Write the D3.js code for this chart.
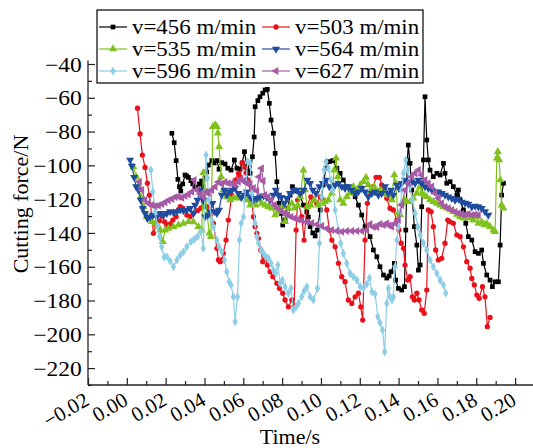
<!DOCTYPE html>
<html><head><meta charset="utf-8">
<script src="https://cdn.jsdelivr.net/npm/d3@7"></script>
<style>body{margin:0;background:#fff}svg{display:block}svg text{font-family:"Liberation Serif","Times New Roman",Times,"DejaVu Serif",serif !important;fill:#000}</style>
</head><body>
<script>
// ---- data: [time (s), cutting force (N)] ----
const v456 = [[0.0232,-81.0],[0.0244,-86.6],[0.0254,-97.2],[0.0263,-108.3],[0.0271,-112.6],[0.0278,-115.2],[0.0288,-111],[0.0300,-105.7],[0.0308,-106.3],[0.0317,-107.1],[0.0330,-109.1],[0.0340,-111],[0.0350,-112.8],[0.0362,-113.4],[0.0374,-111],[0.0385,-109.3],[0.0393,-112.2],[0.0403,-107.5],[0.0411,-103.9],[0.0420,-99.8],[0.0438,-97.2],[0.0450,-98.6],[0.0464,-97.2],[0.0475,-102.3],[0.0489,-98.4],[0.0506,-99.2],[0.0520,-101.7],[0.0537,-102.8],[0.0554,-96.8],[0.0567,-101.7],[0.0583,-102.3],[0.0594,-98.6],[0.0606,-91.9],[0.0618,-100.8],[0.0627,-103.3],[0.0635,-104.7],[0.0647,-94.9],[0.0656,-83.2],[0.0661,-65.3],[0.0675,-61.7],[0.0686,-59.4],[0.0700,-57.3],[0.0712,-55.4],[0.0724,-55],[0.0734,-63.3],[0.0743,-73.2],[0.0755,-81],[0.0764,-92.9],[0.0773,-109.7],[0.0784,-122.5],[0.0795,-128.4],[0.0803,-135.3],[0.0815,-132.4],[0.0829,-125.4],[0.0841,-117.6],[0.0853,-112.6],[0.0863,-114.6],[0.0876,-115.2],[0.0893,-118.1],[0.0910,-123.5],[0.0927,-127.6],[0.0935,-130.6],[0.0944,-136.3],[0.0958,-140],[0.0970,-141.8],[0.0982,-138.3],[0.0996,-126.4],[0.1011,-111.6],[0.1026,-101.6],[0.1043,-97.8],[0.1061,-97.2],[0.1082,-101.7],[0.1099,-104.7],[0.1115,-108.7],[0.1133,-112.6],[0.1150,-114.6],[0.1176,-118.6],[0.1193,-123.5],[0.1210,-129.4],[0.1227,-136.3],[0.1253,-142.2],[0.1270,-150.1],[0.1288,-154.1],[0.1304,-160],[0.1322,-164.9],[0.1339,-166.7],[0.1351,-165.5],[0.1361,-163],[0.1378,-158],[0.1385,-167.9],[0.1399,-172.8],[0.1416,-173.8],[0.1430,-171.8],[0.1437,-138.3],[0.1445,-96.8],[0.1450,-88],[0.1459,-98.8],[0.1468,-114.6],[0.1481,-136.3],[0.1494,-147.2],[0.1502,-162],[0.1511,-159],[0.1519,-124.5],[0.1528,-96.8],[0.1536,-59.4],[0.1545,-85],[0.1553,-96.8],[0.1562,-102.8],[0.1579,-106.7],[0.1597,-104.7],[0.1614,-105.7],[0.1631,-98.8],[0.1639,-104.7],[0.1648,-110.6],[0.1665,-109.7],[0.1682,-112.6],[0.1700,-117.6],[0.1708,-114.6],[0.1717,-120.5],[0.1734,-126.4],[0.1746,-134.3],[0.1759,-142.2],[0.1777,-144.2],[0.1794,-151.1],[0.1811,-152.1],[0.1828,-150.1],[0.1837,-158],[0.1854,-164.9],[0.1871,-167.9],[0.1883,-171.8],[0.1897,-168.9],[0.1914,-168.9],[0.1923,-147.2],[0.1931,-117.6],[0.1940,-110.6]];
const v503 = [[0.0055,-66.2],[0.0068,-81.4],[0.0080,-93.9],[0.0094,-101.2],[0.0106,-110.6],[0.0116,-117.6],[0.0129,-130.4],[0.0137,-140.2],[0.0151,-135.3],[0.0168,-132.8],[0.0182,-130],[0.0195,-133.5],[0.0206,-135.3],[0.0223,-134.7],[0.0237,-132.4],[0.0254,-130.4],[0.0266,-126.4],[0.0275,-124.5],[0.0288,-125.4],[0.0309,-129.4],[0.0326,-130.4],[0.0343,-128.4],[0.0364,-126.8],[0.0381,-125.4],[0.0394,-121.1],[0.0412,-124.5],[0.0429,-129.4],[0.0446,-134.3],[0.0464,-149.1],[0.0472,-156],[0.0481,-157],[0.0489,-156],[0.0497,-152.1],[0.0511,-144.2],[0.0523,-132.4],[0.0541,-117.6],[0.0558,-108.7],[0.0575,-104.7],[0.0583,-106.7],[0.0595,-98.4],[0.0609,-101.2],[0.0614,-104.4],[0.0626,-108.7],[0.0644,-120.5],[0.0652,-130.4],[0.0661,-136.3],[0.0670,-140.2],[0.0678,-143.2],[0.0690,-150.1],[0.0700,-157],[0.0712,-154.1],[0.0724,-159],[0.0738,-163],[0.0752,-165.9],[0.0773,-169.8],[0.0786,-172.8],[0.0803,-175.7],[0.0815,-179.7],[0.0832,-183.7],[0.0850,-179.7],[0.0862,-183.3],[0.0872,-138.3],[0.0880,-120.5],[0.0901,-130.4],[0.0913,-144.2],[0.0927,-124.5],[0.0948,-118.6],[0.0961,-120.5],[0.0979,-122.5],[0.0996,-118.6],[0.1011,-120.5],[0.1030,-126.4],[0.1043,-138.3],[0.1056,-144.2],[0.1073,-148.2],[0.1090,-158],[0.1107,-165.9],[0.1124,-168.9],[0.1141,-179.7],[0.1159,-181.7],[0.1176,-177.8],[0.1193,-175.7],[0.1205,-183.7],[0.1215,-191.6],[0.1227,-144.2],[0.1239,-122.5],[0.1253,-116.5],[0.1270,-112.6],[0.1284,-107.1],[0.1301,-107.1],[0.1313,-111.6],[0.1325,-116.5],[0.1339,-119.5],[0.1356,-125.4],[0.1373,-126.4],[0.1391,-132.4],[0.1402,-138.3],[0.1413,-146.1],[0.1425,-149.1],[0.1433,-159],[0.1447,-167.9],[0.1459,-165.9],[0.1471,-177.8],[0.1481,-179.7],[0.1494,-175.7],[0.1505,-179.7],[0.1519,-185.6],[0.1532,-187.6],[0.1545,-173.8],[0.1553,-126.4],[0.1567,-127.4],[0.1579,-136.3],[0.1591,-150.1],[0.1605,-156],[0.1622,-155],[0.1639,-146.1],[0.1653,-132.4],[0.1665,-133.4],[0.1682,-134.3],[0.1700,-141.2],[0.1717,-142.2],[0.1734,-148.2],[0.1751,-157],[0.1768,-160.9],[0.1777,-166.9],[0.1790,-170.8],[0.1803,-176.8],[0.1815,-178.7],[0.1832,-171.8],[0.1845,-177.8],[0.1857,-195.5],[0.1871,-190]];
const v535 = [[0.0034,-101],[0.0048,-106.7],[0.0060,-112.6],[0.0072,-118.6],[0.0085,-124.5],[0.0103,-130.4],[0.0115,-131.8],[0.0129,-133.4],[0.0146,-134.3],[0.0163,-136.3],[0.0171,-138.3],[0.0185,-145.2],[0.0197,-138.3],[0.0214,-137.3],[0.0240,-136.3],[0.0266,-135.3],[0.0291,-134.3],[0.0317,-133.4],[0.0343,-133.5],[0.0369,-136.3],[0.0386,-138.3],[0.0394,-104.4],[0.0403,-114.6],[0.0414,-129.4],[0.0425,-140.2],[0.0433,-142.2],[0.0443,-77.1],[0.0455,-76.1],[0.0464,-77.1],[0.0469,-81],[0.0475,-89],[0.0486,-106.7],[0.0497,-114.6],[0.0515,-118.6],[0.0532,-120.5],[0.0549,-119.5],[0.0567,-118.6],[0.0583,-119.5],[0.0601,-118.6],[0.0618,-120.5],[0.0635,-123.5],[0.0652,-121.5],[0.0664,-123.5],[0.0678,-120.5],[0.0695,-122.5],[0.0712,-123.5],[0.0729,-124.5],[0.0747,-125.4],[0.0764,-129.4],[0.0773,-125.4],[0.0784,-127.4],[0.0801,-124.5],[0.0815,-133.4],[0.0832,-125.4],[0.0850,-122.5],[0.0863,-125.4],[0.0881,-123.5],[0.0893,-118.6],[0.0910,-102.8],[0.0918,-114.6],[0.0930,-124.5],[0.0948,-123.5],[0.0965,-120.5],[0.0987,-123.5],[0.1004,-122.5],[0.1021,-121.5],[0.1038,-120.5],[0.1056,-116.5],[0.1068,-102.8],[0.1078,-95.8],[0.1087,-106.7],[0.1099,-120.5],[0.1115,-122.5],[0.1133,-118.6],[0.1150,-116.5],[0.1167,-112.6],[0.1185,-114.6],[0.1202,-111.6],[0.1219,-109.7],[0.1232,-107.1],[0.1244,-111.6],[0.1257,-115.6],[0.1274,-112.6],[0.1288,-116.5],[0.1304,-114.6],[0.1322,-115.6],[0.1330,-116.5],[0.1347,-117.6],[0.1365,-120.5],[0.1378,-105.7],[0.1385,-110.6],[0.1396,-128.4],[0.1408,-129.4],[0.1416,-122.5],[0.1430,-120.5],[0.1442,-121.5],[0.1459,-121.5],[0.1476,-119.5],[0.1494,-116.5],[0.1511,-112.6],[0.1519,-116.5],[0.1532,-117.6],[0.1545,-118.6],[0.1562,-120.5],[0.1579,-121.5],[0.1597,-122.5],[0.1614,-123.5],[0.1631,-124.5],[0.1648,-125.4],[0.1665,-126.4],[0.1682,-127.4],[0.1700,-129],[0.1717,-130.4],[0.1734,-131.3],[0.1757,-129.4],[0.1768,-131.3],[0.1785,-132.4],[0.1798,-130.4],[0.1811,-134.3],[0.1828,-133.4],[0.1842,-135.3],[0.1854,-134.3],[0.1871,-136.3],[0.1888,-138.3],[0.1897,-139.3],[0.1906,-95.8],[0.1911,-91.9],[0.1918,-96.8],[0.1924,-108.7],[0.1931,-123.5],[0.1940,-125.4]];
const v564 = [[0.0017,-96.8],[0.0026,-100.4],[0.0038,-107.1],[0.0048,-112.6],[0.0060,-114.6],[0.0072,-120.5],[0.0082,-125.4],[0.0094,-128.4],[0.0106,-131.3],[0.0120,-130.4],[0.0134,-129.4],[0.0155,-130.4],[0.0171,-128.4],[0.0189,-129.4],[0.0206,-128.4],[0.0223,-127.4],[0.0240,-128],[0.0258,-127.4],[0.0275,-126.4],[0.0291,-126.8],[0.0309,-126.4],[0.0326,-125.4],[0.0343,-128.4],[0.0352,-123.5],[0.0364,-120.5],[0.0378,-114.6],[0.0394,-120.5],[0.0403,-130.4],[0.0417,-129.4],[0.0429,-127.4],[0.0441,-122.5],[0.0451,-127.4],[0.0464,-128.4],[0.0475,-126.4],[0.0489,-117.6],[0.0503,-114.6],[0.0515,-117.6],[0.0527,-115.6],[0.0541,-114.6],[0.0558,-113.4],[0.0575,-116.5],[0.0589,-118.9],[0.0606,-117.6],[0.0618,-115.6],[0.0635,-118.6],[0.0652,-120.5],[0.0670,-119.5],[0.0686,-118.6],[0.0704,-118.1],[0.0721,-118.9],[0.0738,-120.5],[0.0755,-117.6],[0.0767,-114.6],[0.0781,-117.6],[0.0795,-118.9],[0.0812,-122.5],[0.0824,-119.5],[0.0841,-116.5],[0.0858,-114.6],[0.0876,-114.6],[0.0893,-116.5],[0.0910,-114.6],[0.0930,-108.7],[0.0944,-110.6],[0.0958,-114.6],[0.0975,-116.5],[0.0992,-112.6],[0.1009,-110.6],[0.1026,-108.7],[0.1043,-112.6],[0.1061,-113.6],[0.1073,-111.6],[0.1090,-110.6],[0.1107,-112.6],[0.1124,-113.6],[0.1141,-112.6],[0.1159,-114.6],[0.1176,-116.5],[0.1193,-115.6],[0.1210,-113.6],[0.1227,-115.6],[0.1244,-118.6],[0.1262,-116.5],[0.1279,-115.6],[0.1296,-117.6],[0.1313,-116.5],[0.1330,-112.6],[0.1347,-116.5],[0.1361,-114.6],[0.1373,-117.6],[0.1391,-111.6],[0.1402,-113.6],[0.1416,-110.6],[0.1433,-108.7],[0.1450,-110.6],[0.1468,-109.7],[0.1485,-110.6],[0.1502,-108.7],[0.1519,-110.6],[0.1536,-112.6],[0.1553,-113.6],[0.1571,-114.6],[0.1588,-115.6],[0.1605,-115.6],[0.1622,-116.5],[0.1639,-117.6],[0.1656,-118.6],[0.1674,-119.5],[0.1691,-120.5],[0.1708,-119.9],[0.1725,-121.7],[0.1742,-122.3],[0.1759,-122.9],[0.1777,-124.5],[0.1794,-124.1],[0.1811,-124.5],[0.1828,-125.4],[0.1845,-127.4],[0.1862,-129.4]];
const v596 = [[0.0124,-102.8],[0.0134,-115.6],[0.0146,-127.4],[0.0158,-135.9],[0.0168,-142.2],[0.0180,-148.2],[0.0192,-154.3],[0.0206,-154.1],[0.0223,-156.6],[0.0240,-160],[0.0258,-156],[0.0275,-153.1],[0.0291,-151.1],[0.0309,-148.2],[0.0330,-145.2],[0.0347,-143.8],[0.0364,-142.2],[0.0381,-139.3],[0.0394,-149.1],[0.0408,-93.9],[0.0415,-107.5],[0.0422,-120.5],[0.0438,-132.4],[0.0446,-136.3],[0.0464,-144.2],[0.0475,-148.2],[0.0489,-151.1],[0.0503,-156],[0.0515,-163],[0.0527,-168.9],[0.0537,-170.8],[0.0549,-177.8],[0.0558,-192.6],[0.0570,-177.8],[0.0580,-144.2],[0.0589,-134.3],[0.0601,-130.4],[0.0613,-109.7],[0.0623,-97.8],[0.0635,-98.8],[0.0644,-116.5],[0.0661,-134.3],[0.0670,-142.2],[0.0678,-146.1],[0.0692,-150.1],[0.0704,-152.1],[0.0716,-154.1],[0.0729,-155],[0.0743,-158],[0.0755,-162],[0.0767,-163.9],[0.0778,-159],[0.0790,-169.8],[0.0801,-167.9],[0.0815,-171.8],[0.0832,-175.7],[0.0846,-172.8],[0.0858,-185.6],[0.0872,-183.7],[0.0884,-181.7],[0.0901,-177.8],[0.0913,-174.4],[0.0927,-171.8],[0.0944,-177.8],[0.0961,-179.7],[0.0982,-172.8],[0.0992,-146.1],[0.1004,-118.6],[0.1016,-102.8],[0.1026,-97.8],[0.1038,-101.7],[0.1051,-108.7],[0.1061,-114.6],[0.1073,-126.4],[0.1090,-138.3],[0.1102,-146.1],[0.1115,-152.1],[0.1133,-158],[0.1150,-163.9],[0.1167,-165.9],[0.1185,-167.9],[0.1202,-171.8],[0.1219,-172.6],[0.1236,-170.2],[0.1250,-166.7],[0.1262,-174.8],[0.1279,-176.2],[0.1293,-189.6],[0.1304,-193],[0.1317,-197.5],[0.1328,-210.5],[0.1339,-181.7],[0.1347,-172.8],[0.1356,-177.8],[0.1366,-179.7],[0.1373,-177.8],[0.1382,-160],[0.1391,-144.2],[0.1399,-136.3],[0.1408,-127.4],[0.1416,-114.6],[0.1425,-104.7],[0.1437,-96.8],[0.1447,-102.8],[0.1459,-112.6],[0.1471,-120.5],[0.1485,-128.4],[0.1499,-136.3],[0.1511,-141.2],[0.1528,-146.1],[0.1545,-150.1],[0.1562,-156],[0.1579,-160],[0.1597,-163.9],[0.1614,-167.9],[0.1631,-170.8],[0.1643,-175.7]];
const v627 = [[0.0065,-109.7],[0.0077,-114.6],[0.0094,-120.5],[0.0111,-122.5],[0.0129,-123.5],[0.0146,-124.1],[0.0163,-123.8],[0.0180,-122.9],[0.0197,-122],[0.0214,-120.7],[0.0232,-119.9],[0.0249,-118.7],[0.0266,-118.6],[0.0283,-119.1],[0.0300,-118.1],[0.0317,-117.3],[0.0335,-115.6],[0.0347,-108.7],[0.0360,-114.6],[0.0378,-117],[0.0393,-118.7],[0.0408,-115.8],[0.0420,-116.5],[0.0438,-114.6],[0.0455,-112.6],[0.0472,-109.9],[0.0489,-111],[0.0506,-109.9],[0.0523,-110.6],[0.0541,-110.6],[0.0558,-111.6],[0.0575,-109.7],[0.0589,-108.1],[0.0602,-109.3],[0.0618,-110.6],[0.0635,-111],[0.0652,-113.4],[0.0670,-115.2],[0.0681,-106.7],[0.0694,-101.7],[0.0702,-109.3],[0.0710,-117.6],[0.0726,-118.7],[0.0743,-120.5],[0.0760,-123.5],[0.0778,-125.4],[0.0795,-127],[0.0812,-128.4],[0.0829,-129.4],[0.0846,-130.4],[0.0863,-131.3],[0.0881,-132],[0.0901,-132.6],[0.0927,-133.5],[0.0953,-134.1],[0.0979,-135],[0.1004,-135.9],[0.1030,-137.4],[0.1056,-138.3],[0.1082,-138.9],[0.1107,-139.3],[0.1133,-138.9],[0.1159,-138.9],[0.1185,-138.9],[0.1210,-138.9],[0.1236,-138.3],[0.1253,-134.7],[0.1270,-136.5],[0.1288,-136.5],[0.1304,-134.7],[0.1322,-135.3],[0.1339,-134.4],[0.1351,-135.6],[0.1365,-136.3],[0.1382,-134.3],[0.1399,-132.4],[0.1416,-123.5],[0.1433,-114.6],[0.1450,-110.6],[0.1468,-106.7],[0.1485,-104.7],[0.1502,-102.8],[0.1519,-105.7],[0.1536,-108.7],[0.1553,-110.6],[0.1571,-112.6],[0.1588,-116.5],[0.1605,-119.5],[0.1622,-122.5],[0.1639,-124.5],[0.1656,-125.4],[0.1674,-126.4],[0.1691,-127.4],[0.1708,-128.4],[0.1725,-128.8],[0.1742,-129.4],[0.1759,-128.8],[0.1777,-129.4],[0.1794,-129.1],[0.1811,-129.4]];

const seriesNames = ["v=456 m/min","v=503 m/min","v=535 m/min","v=564 m/min","v=596 m/min","v=627 m/min"];
const seriesData = [v456, v503, v535, v564, v596, v627];
const xTicks = [-0.02,0,0.02,0.04,0.06,0.08,0.10,0.12,0.14,0.16,0.18,0.20];
const yTicks = [-220,-200,-180,-160,-140,-120,-100,-80,-60,-40];
const xMinorTicks = [-0.01,0.01,0.03,0.05,0.07,0.09,0.11,0.13,0.15,0.17,0.19,0.21];
const yMinorTicks = [-230,-210,-190,-170,-150,-130,-110,-90,-70,-50];
const xTitle = "Time/s";
const yTitle = "Cutting force/N";

// ---- styles ----
const FONT = '"Liberation Serif","Times New Roman",Times,"DejaVu Serif",serif';
const colors = ["#000000","#e8111b","#80c21d","#1f4c9e","#8ecde6","#a65aa6"];
const markers = [
  {type:d3.symbolSquare,size:22,rot:0},
  {type:d3.symbolCircle,size:22,rot:0},
  {type:d3.symbolTriangle,size:28,rot:0},
  {type:d3.symbolTriangle,size:28,rot:180},
  {type:d3.symbolDiamond,size:24,rot:0},
  {type:d3.symbolTriangle,size:28,rot:-90}
];

const W=533,H=448;
const svg = d3.select("body").append("svg").attr("width",W).attr("height",H).attr("font-family",FONT);
const x = d3.scaleLinear().domain([-0.02,0.21]).range([88,534.5]);
const y = d3.scaleLinear().domain([-230,-38]).range([385,60.6]);

// series
const line = d3.line().x(d=>x(d[0])).y(d=>y(d[1]));
seriesData.forEach((data,i)=>{
  const g = svg.append("g");
  g.append("path").datum(data).attr("d",line).attr("fill","none")
    .attr("stroke",colors[i]).attr("stroke-width",1.2);
  const sym = d3.symbol().type(markers[i].type).size(markers[i].size);
  g.selectAll("path.m").data(data).join("path").attr("class","m")
    .attr("d",sym)
    .attr("transform",d=>`translate(${x(d[0])},${y(d[1])}) rotate(${markers[i].rot})`)
    .attr("fill",colors[i]);
});

// axes
const axCol="#222";
function styleAxis(g){
  g.attr("font-family",FONT);
  g.selectAll(".domain").remove();
  g.selectAll("line").attr("stroke",axCol).attr("stroke-width",1.2);
}
svg.append("g").attr("transform","translate(0,385)")
  .call(d3.axisBottom(x).tickValues(xMinorTicks).tickSize(-4).tickFormat(()=>"")).call(styleAxis);
const gx = svg.append("g").attr("transform","translate(0,385)")
  .call(d3.axisBottom(x).tickValues(xTicks).tickSize(-7).tickFormat(d3.format(".2f"))).call(styleAxis);
gx.selectAll("text").attr("font-size",21).attr("font-family",FONT)
  .attr("text-anchor","end").attr("x",0).attr("y",0).attr("dy",0)
  .attr("transform","translate(2,19) rotate(-30)");
svg.append("line").attr("x1",88).attr("x2",533).attr("y1",385).attr("y2",385).attr("stroke",axCol).attr("stroke-width",1.3);

svg.append("g").attr("transform","translate(88,0)")
  .call(d3.axisLeft(y).tickValues(yMinorTicks).tickSize(-4).tickFormat(()=>"")).call(styleAxis);
const gy = svg.append("g").attr("transform","translate(88,0)")
  .call(d3.axisLeft(y).tickValues(yTicks).tickSize(-7).tickFormat(d3.format("d"))).call(styleAxis);
gy.selectAll("text").attr("font-size",21).attr("font-family",FONT).attr("x",-5.5).attr("dy","0.34em")
  .attr("transform","scale(1.12,1)");
svg.append("line").attr("x1",88).attr("x2",88).attr("y1",y(-230)).attr("y2",y(-38)).attr("stroke",axCol).attr("stroke-width",1.3);

svg.append("text").attr("x",290).attr("y",444).attr("text-anchor","middle").attr("font-size",22).text(xTitle);
svg.append("text").attr("transform","translate(28,204) rotate(-90)").attr("text-anchor","middle").attr("font-size",22).text(yTitle);

// legend
const lg = svg.append("g");
lg.append("rect").attr("x",97).attr("y",10).attr("width",326).attr("height",73).attr("fill","#fff").attr("stroke","#000").attr("stroke-width",1.2);
seriesNames.forEach((name,i)=>{
  const col=i%2,row=Math.floor(i/2);
  const lx = col===0?99:262, ly = 27+row*22;
  lg.append("line").attr("x1",lx).attr("x2",lx+28).attr("y1",ly).attr("y2",ly).attr("stroke",colors[i]).attr("stroke-width",1.2);
  lg.append("path").attr("d",d3.symbol().type(markers[i].type).size(markers[i].size)())
    .attr("transform",`translate(${lx+14},${ly}) rotate(${markers[i].rot})`).attr("fill",colors[i]);
  lg.append("text").attr("transform",`translate(${lx+33},${ly+7}) scale(1.09,1)`).attr("font-size",21).text(name);
});
</script>
</body></html>
